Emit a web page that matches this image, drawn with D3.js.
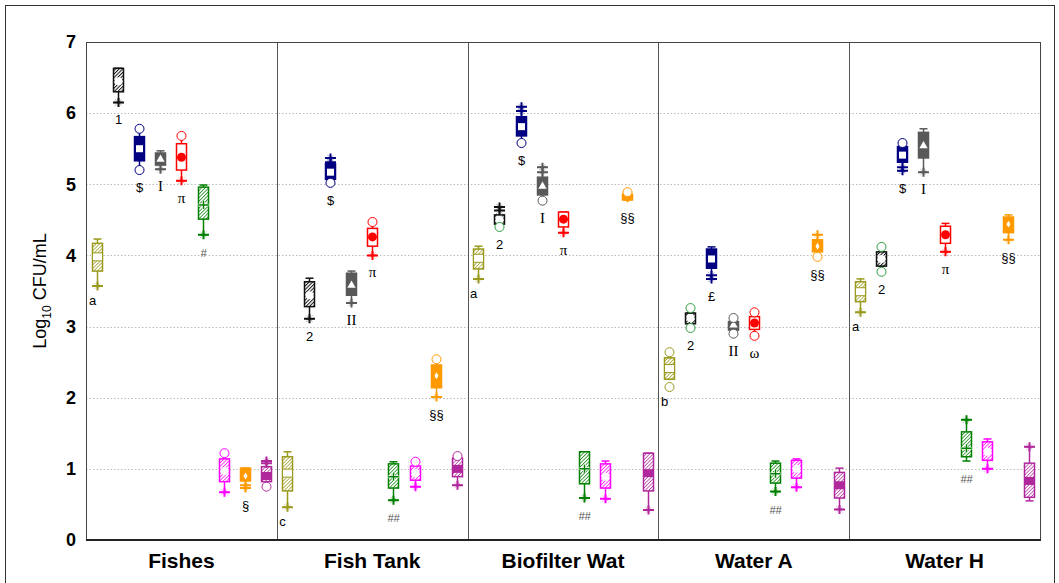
<!DOCTYPE html>
<html>
<head>
<meta charset="utf-8">
<style>
  body { margin: 0; background: #fff; }
  svg { font-family: Arial, "Liberation Sans", sans-serif; }
  .y .tick text { font-size: 18px; font-weight: bold; fill: #000; }
  .x .tick text { font-size: 21px; font-weight: bold; fill: #000; }
  .grid line { stroke: #bbb; stroke-dasharray: 1.5 2; }
</style>
</head>
<body>
<svg width="1059" height="583"></svg>
<script src="https://d3js.org/d3.v7.min.js"></script>
<script>
// ---- data ----
const groups = ["Fishes", "Fish Tank", "Biofilter Wat", "Water A", "Water H"];
const seriesKeys = ["olive", "black", "navy", "gray", "red", "green", "pink", "orange", "purple"];
const yTicks = [0, 1, 2, 3, 4, 5, 6, 7];

// per group: [low whisker, q1, median, q3, high whisker]
const oliveStats  = [[3.57,3.78,3.98,4.17,4.23],[0.46,0.69,0.94,1.17,1.24],[3.67,3.81,3.96,4.09,4.13],[2.26,2.26,2.41,2.56,2.56],[3.20,3.35,3.49,3.63,3.67]];
const blackStats  = [[6.15,6.30,6.45,6.63,6.63],[3.11,3.28,3.44,3.63,3.68],[4.44,4.44,4.50,4.57,4.68],[3.04,3.04,3.12,3.19,3.19],[3.85,3.85,3.95,4.05,4.05]];
const navyStats   = [[5.20,5.33,5.50,5.67,5.78],[5.02,5.07,5.17,5.29,5.37],[5.58,5.68,5.81,5.95,6.09],[3.67,3.82,3.95,4.09,4.12],[5.19,5.31,5.41,5.53,5.58]];
const grayStats   = [[5.21,5.27,5.35,5.44,5.47],[3.33,3.44,3.58,3.75,3.78],[4.77,4.85,4.97,5.10,5.24],[2.90,2.95,3.02,3.07,3.12],[5.17,5.37,5.54,5.73,5.78]];
const redStats    = [[5.05,5.20,5.38,5.57,5.68],[4.00,4.13,4.26,4.38,4.47],[4.32,4.40,4.51,4.61,4.61],[2.87,2.96,3.05,3.14,3.20],[4.05,4.17,4.29,4.41,4.45]];
const greenStats  = [[4.29,4.51,4.71,4.96,4.99],[0.56,0.73,0.89,1.07,1.10],[0.59,0.79,1.00,1.24,1.24],[0.68,0.80,0.93,1.08,1.11],[1.11,1.17,1.29,1.52,1.69]];
const pinkStats   = [[0.67,0.82,0.97,1.14,1.22],[0.75,0.84,0.94,1.04,1.10],[0.58,0.73,0.89,1.07,1.11],[0.74,0.87,1.00,1.12,1.14],[1.00,1.12,1.24,1.38,1.42]];
const orangeStats = [[0.73,0.83,0.90,1.01,1.01],[2.01,2.14,2.31,2.46,2.54],[4.78,4.78,4.82,4.86,4.89],[3.98,4.05,4.13,4.22,4.29],[4.22,4.32,4.44,4.54,4.57]];
const purpleStats = [[0.75,0.82,0.90,1.03,1.11],[0.77,0.89,1.00,1.15,1.18],[0.42,0.69,0.94,1.22,1.22],[0.43,0.59,0.77,0.95,1.01],[0.55,0.60,0.83,1.08,1.31]];

// extreme values drawn as "+" marks, per group
const olivePlus  = [[3.57],[0.46],[3.67],[],[3.20]];
const blackPlus  = [[6.15],[3.11],[4.68,4.63],[],[]];
const navyPlus   = [[],[5.37,5.31],[6.09,6.03],[3.72,3.67],[5.24,5.19]];
const grayPlus   = [[5.21],[3.33],[5.24,5.17],[],[5.17]];
const redPlus    = [[5.05],[4.00],[4.32],[],[4.05]];
const greenPlus  = [[4.29],[0.56],[0.59],[0.68],[1.69]];
const pinkPlus   = [[0.67],[0.75],[0.58],[0.74],[1.00]];
const orangePlus = [[0.77,0.73],[2.01],[4.81],[4.29],[4.22]];
const purplePlus = [[1.11,1.08],[0.77],[0.42],[0.43],[1.31]];

// extreme values drawn as open circles, per group
const oliveRing  = [[],[],[],[2.64,2.15],[]];
const blackRing  = [[],[],[4.40],[3.26,2.98],[4.12,3.77]];
const navyRing   = [[5.78,5.20],[5.02],[5.58],[],[5.58]];
const grayRing   = [[],[],[4.77],[3.12,2.90],[]];
const redRing    = [[5.68],[4.47],[],[3.20,2.87],[]];
const greenRing  = [[],[],[],[],[]];
const pinkRing   = [[1.22],[1.10],[],[],[]];
const orangeRing = [[],[2.54],[4.89],[3.98],[]];
const purpleRing = [[0.75],[1.18],[],[],[]];

// significance labels under each box
const oliveLabels  = ["a","c","a","b","a"];
const blackLabels  = ["1","2","2","2","2"];
const navyLabels   = ["$","$","$","£","$"];
const grayLabels   = ["I","II","I","II","I"];
const redLabels    = ["π","π","π","ω","π"];
const greenLabels  = ["#","##","##","##","##"];
const pinkLabels   = ["","","","",""];
const orangeLabels = ["§","§§","§§","§§","§§"];
const purpleLabels = ["","","","",""];

// ---- styles ----
const seriesColors = ["#9a9a1e", "#111111", "#000080", "#595959", "#ff0000", "#008000", "#ff00ff", "#ff9900", "#b0279c"];
const ringColors   = ["#9a9a1e", "#2e9e3e", "#000080", "#595959", "#ff0000", "#008000", "#ff00ff", "#ff9900", "#b0279c"];
const boxFill   = ["hatch", "hatch", "solid", "solid", "open", "hatch", "hatch", "solid", "hatch"];
const meanMark  = ["band", "circle", "square", "triangle", "dot", "cross", "circle", "diamond", "bar"];

const statsAll  = [oliveStats, blackStats, navyStats, grayStats, redStats, greenStats, pinkStats, orangeStats, purpleStats];
const plusAll   = [olivePlus, blackPlus, navyPlus, grayPlus, redPlus, greenPlus, pinkPlus, orangePlus, purplePlus];
const ringAll   = [oliveRing, blackRing, navyRing, grayRing, redRing, greenRing, pinkRing, orangeRing, purpleRing];
const labelsAll = [oliveLabels, blackLabels, navyLabels, grayLabels, redLabels, greenLabels, pinkLabels, orangeLabels, purpleLabels];

let svg = d3.select("svg");
let margin = { top: 42, right: 19, bottom: 43, left: 86 };
let width = 1059, height = 583;

// outer frame
svg.append("rect")
    .attr("x", 5.5).attr("y", 5.5)
    .attr("width", 1049).attr("height", 600)
    .attr("fill", "none").attr("stroke", "#333").attr("stroke-width", 1);

let x = d3.scaleBand()
    .domain(groups)
    .range([margin.left, width - margin.right]);

let xs = d3.scaleBand()
    .domain(seriesKeys)
    .range([0, x.bandwidth()]);

let y = d3.scaleLinear()
    .domain([0, 7])
    .range([height - margin.bottom, margin.top]);

// grid
svg.append("g")
    .attr("class", "grid")
    .selectAll("line")
    .data(yTicks.filter(d => d > 0 && d < 7))
    .join("line")
    .attr("x1", margin.left).attr("x2", width - margin.right)
    .attr("y1", d => Math.round(y(d)) + 0.5).attr("y2", d => Math.round(y(d)) + 0.5);

// group separators
svg.append("g")
    .selectAll("line")
    .data(groups.slice(1))
    .join("line")
    .attr("x1", d => Math.round(x(d)) + 0.5).attr("x2", d => Math.round(x(d)) + 0.5)
    .attr("y1", y(7)).attr("y2", y(0))
    .attr("stroke", "#555");

// plot frame
svg.append("rect")
    .attr("x", margin.left + 0.5).attr("y", y(7) + 0.5)
    .attr("width", width - margin.right - margin.left).attr("height", y(0) - y(7))
    .attr("fill", "none").attr("stroke", "#444");
svg.append("line")
    .attr("x1", margin.left).attr("x2", width - margin.right + 1)
    .attr("y1", y(0)).attr("y2", y(0))
    .attr("stroke", "#222").attr("stroke-width", 2);

// axes
svg.append("g")
    .attr("class", "y axis")
    .attr("transform", `translate(${margin.left},0)`)
    .call(d3.axisLeft(y).tickValues(yTicks).tickSize(0).tickPadding(10).tickFormat(d3.format("d")))
    .call(g => g.select(".domain").remove());

svg.append("g")
    .attr("class", "x axis")
    .attr("transform", `translate(0,${y(0)})`)
    .call(d3.axisBottom(x).tickSize(0).tickPadding(13))
    .call(g => g.select(".domain").remove());

let ttl = svg.append("text")
    .attr("transform", `translate(46,${(y(0) + y(7)) / 2}) rotate(-90)`)
    .attr("text-anchor", "middle")
    .attr("font-size", 18);
ttl.append("tspan").text("Log");
ttl.append("tspan").attr("font-size", 12).attr("dy", 5).text("10");
ttl.append("tspan").attr("dy", -5).text(" CFU/mL");

// hatch patterns
let defs = svg.append("defs");
seriesColors.forEach((c, i) => {
    let p = defs.append("pattern")
        .attr("id", "hatch" + i)
        .attr("width", 2.5).attr("height", 2.5)
        .attr("patternUnits", "userSpaceOnUse")
        .attr("patternTransform", "rotate(45)");
    p.append("rect").attr("width", 2.5).attr("height", 2.5).attr("fill", "#fff");
    p.append("line").attr("x1", 0).attr("y1", 0).attr("x2", 0).attr("y2", 2.5)
        .attr("stroke", c).attr("stroke-width", i == 1 ? 2 : 1.4);
});

let bw = 10, capW = 8;

seriesKeys.forEach((key, si) => {
    let col = seriesColors[si];
    let gS = svg.append("g").attr("class", "series " + key);

    groups.forEach((grp, gi) => {
        let [lo, q1, med, q3, hi] = statsAll[si][gi];
        let cx = Math.round(x(grp) + xs(key) + xs.bandwidth() / 2) + 0.5;
        let g = gS.append("g");

        // whiskers
        g.append("line").attr("x1", cx).attr("x2", cx).attr("y1", y(hi)).attr("y2", y(q3))
            .attr("stroke", col).attr("stroke-width", 1.5);
        g.append("line").attr("x1", cx).attr("x2", cx).attr("y1", y(q1)).attr("y2", y(lo))
            .attr("stroke", col).attr("stroke-width", 1.5);
        [lo, hi].forEach(v => {
            g.append("line").attr("x1", cx - capW / 2).attr("x2", cx + capW / 2)
                .attr("y1", y(v)).attr("y2", y(v))
                .attr("stroke", col).attr("stroke-width", 1.5);
        });

        // box
        let fill = boxFill[si] == "hatch" ? `url(#hatch${si})` : boxFill[si] == "solid" ? col : "#fff";
        g.append("rect")
            .attr("x", cx - bw / 2).attr("y", y(q3))
            .attr("width", bw).attr("height", Math.max(2, y(q1) - y(q3)))
            .attr("fill", fill).attr("stroke", col).attr("stroke-width", 1.5);

        // centre marker
        let my = y(med);
        let m = meanMark[si];
        if (m == "band") {
            g.append("rect").attr("x", cx - bw / 2).attr("y", my - 4).attr("width", bw).attr("height", 8)
                .attr("fill", "#fff").attr("stroke", col).attr("stroke-width", 1);
        } else if (m == "circle") {
            g.append("circle").attr("cx", cx).attr("cy", my).attr("r", 4).attr("fill", "#fff");
        } else if (m == "square") {
            g.append("rect").attr("x", cx - 3.5).attr("y", my - 3.5).attr("width", 7).attr("height", 7).attr("fill", "#fff");
        } else if (m == "triangle") {
            g.append("path").attr("d", d3.symbol(d3.symbolTriangle, 30)()).attr("transform", `translate(${cx},${my})`).attr("fill", "#fff");
        } else if (m == "dot") {
            g.append("circle").attr("cx", cx).attr("cy", my).attr("r", 4.5).attr("fill", col);
        } else if (m == "cross") {
            g.append("path").attr("d", `M${cx - bw / 2},${my}H${cx + bw / 2}M${cx},${my - 4}V${my + 4}`)
                .attr("stroke", "#fff").attr("stroke-width", 3);
            g.append("path").attr("d", `M${cx - bw / 2},${my}H${cx + bw / 2}M${cx},${my - 4}V${my + 4}`)
                .attr("stroke", col).attr("stroke-width", 1.5);
        } else if (m == "diamond") {
            g.append("path").attr("d", d3.symbol(d3.symbolDiamond, 14)()).attr("transform", `translate(${cx},${my})`).attr("fill", "#fff");
        } else if (m == "bar") {
            g.append("rect").attr("x", cx - bw / 2).attr("y", my - 4).attr("width", bw).attr("height", 8).attr("fill", col);
        }

        // plus marks
        plusAll[si][gi].forEach(v => {
            let py = y(v);
            g.append("path").attr("d", `M${cx - 3},${py - 3}L${cx + 3},${py + 3}M${cx - 3},${py + 3}L${cx + 3},${py - 3}`)
                .attr("stroke", col).attr("stroke-width", 0.6).attr("stroke-dasharray", "1 1");
            g.append("path").attr("d", `M${cx - 5.5},${py}H${cx + 5.5}M${cx},${py - 4.5}V${py + 4.5}`)
                .attr("stroke", col).attr("stroke-width", 2);
        });

        // rings
        ringAll[si][gi].forEach(v => {
            g.append("circle").attr("cx", cx).attr("cy", y(v)).attr("r", 4.5)
                .attr("fill", "#fff").attr("stroke", ringColors[si]).attr("stroke-width", 1);
        });

        // label
        let lab = labelsAll[si][gi];
        if (lab) {
            let vmin = d3.min([lo, ...plusAll[si][gi], ...ringAll[si][gi]]);
            let serif = ["I", "II", "π", "ω"].includes(lab);
            let isHash = lab.startsWith("#");
            g.append("text")
                .attr("x", si == 0 ? cx - 5 : cx)
                .attr("y", y(vmin) + (si == 0 ? 19 : 22))
                .attr("text-anchor", "middle")
                .attr("font-family", serif ? "'Liberation Serif', 'DejaVu Serif', serif" : "Arial, 'Liberation Sans', sans-serif")
                .attr("font-size", serif ? 15 : isHash ? 11 : 13)
                .attr("font-style", isHash ? "italic" : null)
                .attr("fill", isHash ? "#555" : "#000")
                .text(lab);
        }
    });
});
</script>
</body>
</html>
